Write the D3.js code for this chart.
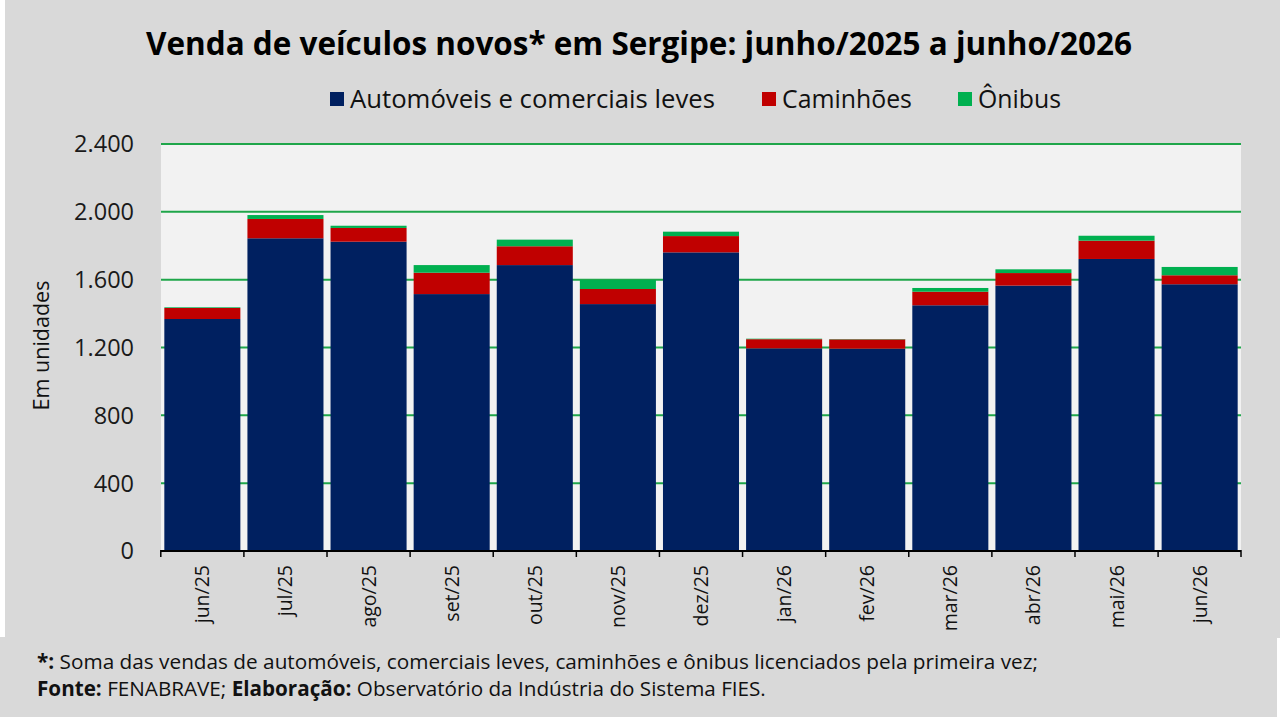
<!DOCTYPE html>
<html>
<head>
<meta charset="utf-8">
<script src="https://cdn.jsdelivr.net/npm/d3@7"></script>
<style>
  body { margin: 0; background: #fff; }
  svg { display: block; font-family: 'Open Sans', 'Noto Sans', sans-serif; }
</style>
</head>
<body>
<div id="chart"></div>
<script>
// dados
const months = ['jun/25', 'jul/25', 'ago/25', 'set/25', 'out/25', 'nov/25', 'dez/25',
  'jan/26', 'fev/26', 'mar/26', 'abr/26', 'mai/26', 'jun/26'];
const automoveis = [1368, 1844, 1824, 1515, 1686, 1456, 1761, 1195, 1193, 1449, 1565, 1722, 1573];
const caminhoes = [65, 114, 81, 126, 111, 89, 96, 54, 55, 80, 74, 108, 53];
const onibus = [4, 23, 13, 45, 39, 53, 26, 3, 2, 22, 22, 29, 49];
const seriesNames = ['Automóveis e comerciais leves', 'Caminhões', 'Ônibus'];
const yTicks = [0, 400, 800, 1200, 1600, 2000, 2400];

const W = 1280, H = 720;
const M = { left: 161, right: 39, top: 144, bottom: 169 };
const COLORS = ['#002060', '#c00000', '#00b050'];
const fmt = d3.formatLocale({ decimal: ',', thousands: '.', grouping: [3], currency: ['R$', ''] }).format(',d');

// ajusta o tamanho da fonte para a largura medida na imagem
function fitWidth(sel, target) {
  const node = sel.node();
  const size = parseFloat(sel.attr('font-size'));
  const len = node.getComputedTextLength();
  sel.attr('font-size', (size * target / len).toFixed(2));
  return sel;
}

const svg = d3.select('#chart').append('svg').attr('width', W).attr('height', H);

// fundos
svg.append('rect').attr('x', 5).attr('y', 0).attr('width', W - 5).attr('height', 638).attr('fill', '#d9d9d9');
svg.append('rect').attr('x', 0).attr('y', 637).attr('width', W - 3).attr('height', 80).attr('fill', '#d9d9d9');

const rows = months.map((m, i) => ({ month: m, a: automoveis[i], c: caminhoes[i], o: onibus[i] }));
const stack = d3.stack().keys(['a', 'c', 'o'])(rows);

const x = d3.scaleBand().domain(months).range([M.left, W - M.right]).paddingInner(0.085).paddingOuter(0.04);
const y = d3.scaleLinear().domain([0, 2400]).range([H - M.bottom, M.top]);

svg.append('rect')
  .attr('x', M.left).attr('y', M.top)
  .attr('width', W - M.left - M.right).attr('height', H - M.top - M.bottom)
  .attr('fill', '#f2f2f2');

// grade
svg.append('g').selectAll('line').data(yTicks.slice(1)).join('line')
  .attr('x1', M.left).attr('x2', W - M.right)
  .attr('y1', d => y(d)).attr('y2', d => y(d))
  .attr('stroke', '#1fa64a').attr('stroke-width', 2);

// barras
svg.append('g').selectAll('g').data(stack).join('g')
  .attr('fill', (d, i) => COLORS[i])
  .selectAll('rect').data(d => d).join('rect')
  .attr('x', d => x(d.data.month))
  .attr('width', x.bandwidth())
  .attr('y', d => y(d[1]))
  .attr('height', d => y(d[0]) - y(d[1]));

// eixo y
const yLab = svg.append('g').selectAll('text').data(yTicks).join('text')
  .attr('x', 134).attr('y', d => y(d)).attr('dy', '0.36em')
  .attr('text-anchor', 'end').attr('font-size', 23.5).attr('fill', '#1a1a1a')
  .text(d => fmt(d));

fitWidth(svg.append('text')
  .attr('transform', `translate(49,${(M.top + H - M.bottom) / 2 - 2}) rotate(-90)`)
  .attr('text-anchor', 'middle').attr('font-size', 20).attr('fill', '#111')
  .text('Em unidades'), 130);

// eixo x
const step = x.step();
const bounds = months.map(m => x(m) - (step - x.bandwidth()) / 2).concat([W - M.right]);
const axisG = svg.append('g');
axisG.append('line')
  .attr('x1', M.left).attr('x2', W - M.right)
  .attr('y1', y(0)).attr('y2', y(0))
  .attr('stroke', '#000').attr('stroke-width', 2);
axisG.selectAll('line.tick').data(bounds).join('line').attr('class', 'tick')
  .attr('x1', d => d).attr('x2', d => d)
  .attr('y1', y(0) - 1).attr('y2', y(0) + 6)
  .attr('stroke', '#000').attr('stroke-width', 1.5);
axisG.selectAll('text').data(months).join('text')
  .attr('transform', d => `translate(${x(d) + x.bandwidth() / 2 + 7},${y(0) + 14}) rotate(-90)`)
  .attr('text-anchor', 'end').attr('font-size', 19.5).attr('fill', '#111')
  .text(d => d);

// título
fitWidth(svg.append('text')
  .attr('x', 639).attr('y', 55).attr('text-anchor', 'middle')
  .attr('font-size', 27).attr('font-weight', 'bold').attr('fill', '#000')
  .text('Venda de veículos novos* em Sergipe: junho/2025 a junho/2026'), 986);

// legenda
const legendX = [330, 762, 958];
const legendW = [365, 130, 83];
const leg = svg.append('g').selectAll('g').data(seriesNames).join('g')
  .attr('transform', (d, i) => `translate(${legendX[i]},99)`);
leg.append('rect').attr('x', 0).attr('y', -7).attr('width', 14).attr('height', 14)
  .attr('fill', (d, i) => COLORS[i]);
leg.append('text').attr('x', 20).attr('dy', '0.36em').attr('font-size', 21).attr('fill', '#111')
  .text(d => d)
  .each(function (d, i) { fitWidth(d3.select(this), legendW[i]); });

// rodapé
const foot = svg.append('g').attr('fill', '#111');
const l1 = foot.append('text').attr('x', 37).attr('y', 669).attr('font-size', 18);
l1.append('tspan').attr('font-weight', 'bold').text('*:');
l1.append('tspan').text(' Soma das vendas de automóveis, comerciais leves, caminhões e ônibus licenciados pela primeira vez;');
fitWidth(l1, 1001);
const l2 = foot.append('text').attr('x', 37).attr('y', 696).attr('font-size', 18);
l2.append('tspan').attr('font-weight', 'bold').text('Fonte:');
l2.append('tspan').text(' FENABRAVE; ');
l2.append('tspan').attr('font-weight', 'bold').text('Elaboração:');
l2.append('tspan').text(' Observatório da Indústria do Sistema FIES.');
fitWidth(l2, 729);
</script>
</body>
</html>
